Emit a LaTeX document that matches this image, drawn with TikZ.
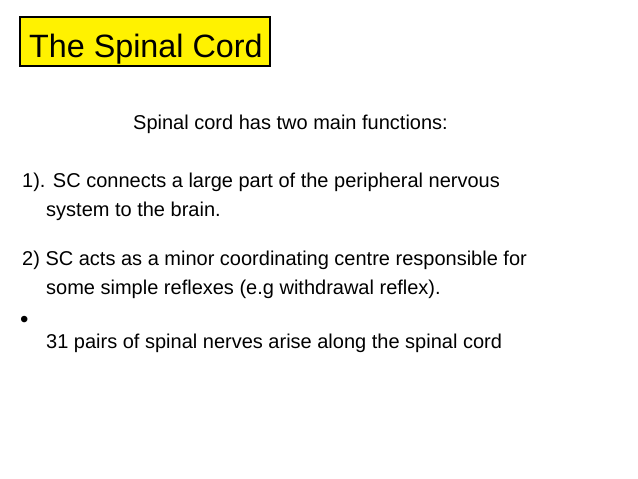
\documentclass[tikz,border=0pt]{standalone}
\usepackage{fontspec}
\setmainfont{Liberation Sans}
\begin{document}
\begin{tikzpicture}[x=1pt,y=-1pt,
  txt/.style={anchor=base west,inner sep=0pt,font=\fontsize{20}{24}\selectfont}]
\useasboundingbox[fill=white] (0,0) rectangle (638,479);
\draw[line width=2.5pt,fill=yellow] (20,17) rectangle (270,66);
\node[anchor=base west,inner sep=0pt,font=\fontsize{32.3}{36}\selectfont] (title) at (29,57) {The Spinal Cord};
\node[txt] (l0) at (133,129) {Spinal cord has two main functions:};
\node[txt] (l1) at (22,187) {1). SC connects a large part of the peripheral nervous};
\node[txt] (l1b) at (46,216) {system to the brain.};
\node[txt] (l2) at (22,265) {2) SC acts as a minor coordinating centre responsible for};
\node[txt] (l2b) at (46,294) {some simple reflexes (e.g withdrawal reflex).};
\node[txt,font=\fontsize{24}{28}\selectfont] (b) at (20,327) {\textbullet};
\node[txt] (l3) at (46,348) {31 pairs of spinal nerves arise along the spinal cord};
\end{tikzpicture}
\end{document}
